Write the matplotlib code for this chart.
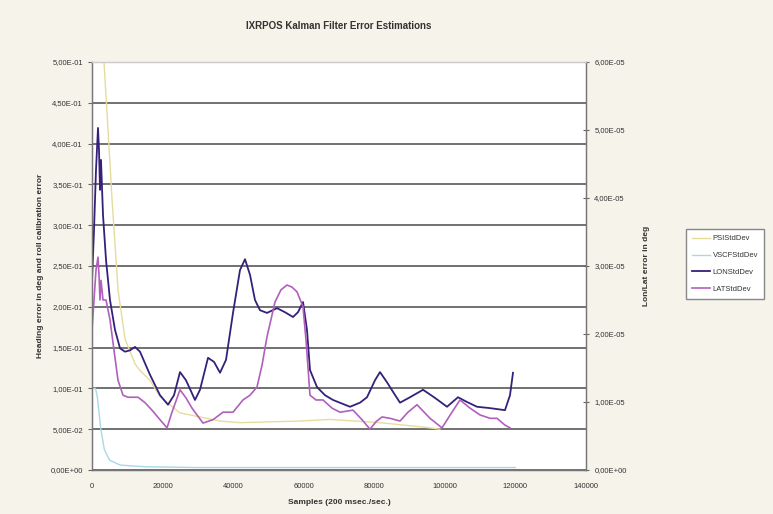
import matplotlib
matplotlib.use("Agg")
import matplotlib.pyplot as plt
from matplotlib.ticker import FuncFormatter, MultipleLocator

# Data ------------------------------------------------------------------------

# heading (PSI) std dev, left axis
psi_x = [1400, 1700, 2300, 3400, 4500, 5700, 7400, 9400, 12200, 13600, 16400,
         19300, 24900, 30600, 36300, 41900, 50000, 58900, 67400, 81600, 93000, 98600]
psi_y = [0.62, 0.60, 0.56, 0.50, 0.42, 0.33, 0.22, 0.16, 0.13, 0.122, 0.11,
         0.09, 0.07, 0.065, 0.06, 0.058, 0.059, 0.06, 0.062, 0.058, 0.053, 0.05]

# roll calibration (VSCF) std dev, left axis
vscf_x = [0, 1000, 1500, 2500, 3500, 5000, 8000, 15000, 30000, 60000, 90000, 120000]
vscf_y = [0.10, 0.10, 0.09, 0.05, 0.025, 0.012, 0.006, 0.004, 0.003, 0.003, 0.003, 0.003]

# longitude std dev, right axis (deg)
lon_x = [0, 570, 1130, 1700, 1980, 2270, 2550, 3120, 3970, 5100, 6520, 7940,
         9350, 10770, 12190, 13600, 16440, 19270, 21540, 23240, 24940, 26640,
         29190, 30610, 32880, 34580, 36280, 37980, 39960, 41940, 43360, 44780,
         46190, 47610, 49600, 52430, 54700, 56960, 58380, 59800, 60930, 61780,
         63760, 66030, 68300, 73120, 75950, 77940, 80200, 81620, 83600, 85300,
         87290, 90120, 93810, 97210, 100610, 103720, 106280, 109110, 112790,
         117040, 118460, 119310]
lon_y = [2.79e-5, 3.53e-5, 4.41e-5, 5.03e-5, 4.71e-5, 4.12e-5, 4.56e-5, 3.75e-5,
         3.09e-5, 2.50e-5, 2.06e-5, 1.79e-5, 1.74e-5, 1.76e-5, 1.81e-5, 1.74e-5,
         1.40e-5, 1.10e-5, 0.96e-5, 1.10e-5, 1.44e-5, 1.32e-5, 1.03e-5, 1.18e-5,
         1.65e-5, 1.59e-5, 1.43e-5, 1.62e-5, 2.31e-5, 2.94e-5, 3.10e-5, 2.87e-5,
         2.50e-5, 2.35e-5, 2.31e-5, 2.38e-5, 2.32e-5, 2.25e-5, 2.32e-5, 2.47e-5,
         2.06e-5, 1.47e-5, 1.22e-5, 1.10e-5, 1.03e-5, 0.93e-5, 0.99e-5, 1.07e-5,
         1.32e-5, 1.44e-5, 1.29e-5, 1.15e-5, 0.99e-5, 1.07e-5, 1.18e-5, 1.06e-5,
         0.93e-5, 1.07e-5, 1.00e-5, 0.93e-5, 0.91e-5, 0.88e-5, 1.10e-5, 1.43e-5]

# latitude std dev, right axis (deg)
lat_x = [0, 570, 1130, 1700, 1980, 2270, 2550, 3120, 3970, 5100, 6240, 7370,
         8790, 10200, 13040, 15020, 17000, 19270, 21260, 22670, 24940, 26640,
         28340, 31460, 34290, 37130, 39960, 42790, 44780, 46760, 48180, 49600,
         51860, 53560, 55260, 56680, 58100, 59800, 60650, 61780, 63480, 65470,
         68020, 70280, 73970, 76520, 78790, 80490, 82190, 84450, 87290, 89550,
         92110, 95790, 99190, 102020, 104290, 107130, 109960, 112790, 114780,
         117040, 118460]
lat_y = [2.06e-5, 2.50e-5, 2.94e-5, 3.13e-5, 2.87e-5, 2.50e-5, 2.79e-5, 2.50e-5,
         2.50e-5, 2.21e-5, 1.76e-5, 1.32e-5, 1.10e-5, 1.07e-5, 1.07e-5, 0.99e-5,
         0.88e-5, 0.74e-5, 0.62e-5, 0.85e-5, 1.18e-5, 1.06e-5, 0.91e-5, 0.69e-5,
         0.74e-5, 0.85e-5, 0.85e-5, 1.03e-5, 1.10e-5, 1.22e-5, 1.54e-5, 1.96e-5,
         2.47e-5, 2.65e-5, 2.72e-5, 2.69e-5, 2.62e-5, 2.40e-5, 1.91e-5, 1.10e-5,
         1.03e-5, 1.03e-5, 0.91e-5, 0.85e-5, 0.88e-5, 0.74e-5, 0.60e-5, 0.71e-5,
         0.78e-5, 0.76e-5, 0.72e-5, 0.85e-5, 0.96e-5, 0.76e-5, 0.62e-5, 0.85e-5,
         1.03e-5, 0.91e-5, 0.81e-5, 0.76e-5, 0.76e-5, 0.66e-5, 0.62e-5]

# Plot -------------------------------------------------------------------------

plt.rcParams['font.family'] = ['Liberation Sans', 'DejaVu Sans']
txt = '#333333'


def excel_sci(v, pos):
    return f"{v:.2E}".replace('.', ',')


fig = plt.figure(figsize=(7.73, 5.14), dpi=100, facecolor='#f5f3ea')
ax = fig.add_axes([92 / 773, 44 / 514, 494 / 773, 408 / 514])
ax.set_facecolor('white')
ax2 = ax.twinx()

ax.set_xlim(0, 140000)
ax.set_ylim(0, 0.5)
ax2.set_ylim(0, 6e-5)

ax.yaxis.set_major_locator(MultipleLocator(0.05))
ax2.yaxis.set_major_locator(MultipleLocator(1e-5))
ax.xaxis.set_major_locator(MultipleLocator(20000))
ax.yaxis.set_major_formatter(FuncFormatter(excel_sci))
ax2.yaxis.set_major_formatter(FuncFormatter(excel_sci))

ax.grid(axis='y', color='#4a4a4a', linewidth=1.1)
ax.set_axisbelow(True)

l1, = ax.plot(psi_x, psi_y, color='#e6dc9a', lw=1.0, label='PSIStdDev')
l2, = ax.plot(vscf_x, vscf_y, color='#a9d8e6', lw=1.0, label='VSCFStdDev')
l3, = ax2.plot(lon_x, lon_y, color='#35207a', lw=1.3, label='LONStdDev')
l4, = ax2.plot(lat_x, lat_y, color='#b060bc', lw=1.2, label='LATStdDev')

for a in (ax, ax2):
    for s in a.spines.values():
        s.set_color('#777777')
        s.set_linewidth(0.9)
    a.spines['top'].set_color('#cccccc')
ax.tick_params(axis='y', labelsize=5.5, colors='#666666', labelcolor=txt, length=3)
ax.tick_params(axis='x', labelsize=5.5, colors='#666666', labelcolor=txt, length=0, pad=9)
ax2.tick_params(axis='y', labelsize=5.5, colors='#666666', labelcolor=txt,
                direction='inout', length=5)

ax.set_title('IXRPOS Kalman Filter Error Estimations', fontsize=7, fontweight='bold',
             color=txt, pad=24)
ax.set_xlabel('Samples (200 msec./sec.)', fontsize=6, fontweight='bold', color=txt, labelpad=7)
ax.set_ylabel('Heading error in deg and roll calibration error', fontsize=6,
              fontweight='bold', color=txt, labelpad=5)
ax2.set_ylabel('Lon/Lat error in deg', fontsize=6, fontweight='bold', color=txt, labelpad=12)

fig.legend(handles=[l1, l2, l3, l4], loc='upper left', bbox_to_anchor=(682 / 773, 1 - 225 / 514),
           fontsize=5.5, frameon=True, fancybox=False, edgecolor='#888888',
           facecolor='white', framealpha=1, handlelength=2.4, labelspacing=1.25,
           borderpad=0.8, handletextpad=0.3, labelcolor=txt)

fig.savefig('out.png', dpi=100, facecolor=fig.get_facecolor())
